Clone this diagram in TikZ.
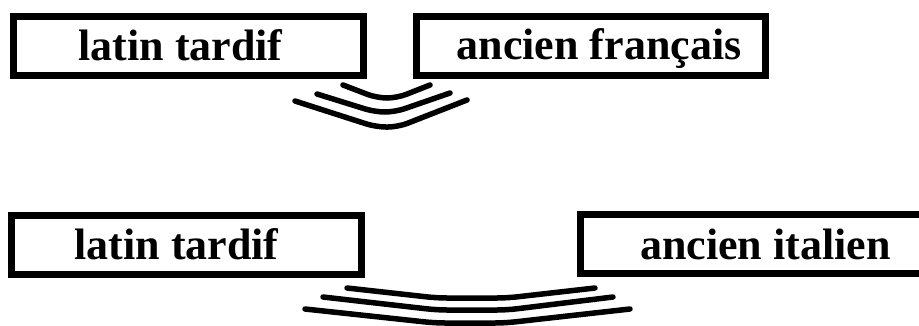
\documentclass[tikz,border=0pt]{standalone}
\usepackage{fontspec}
\setmainfont{Liberation Serif}
\begin{document}
\begin{tikzpicture}[x=1pt,y=-1pt,
  box/.style={draw=black,line width=6.5pt,minimum height=59.4pt,inner sep=0pt},
  lbl/.style={inner sep=0pt,anchor=base,font=\bfseries\fontsize{44}{50}\selectfont},
  wave/.style={draw=black,line width=5.5pt,line cap=round,rounded corners=10pt}]
\useasboundingbox (0,0) rectangle (919,325);
% boxes
\node[box,minimum width=350.4pt] (b1) at (188.5,46) {};
\node[box,minimum width=349.4pt] (b2) at (591,46) {};
\node[box,minimum width=350.4pt] (b3) at (186.5,245) {};
\node[box,minimum width=360pt] (b4) at (760.3,244) {};
% labels
\node[lbl] (t1) at (180.5,60) {latin tardif};
\node[lbl] (t2) at (599,59.5) {ancien français};
\node[lbl] (t3) at (176.5,259) {latin tardif};
\node[lbl] (t4) at (765.5,259) {ancien italien};
% top waves
\draw[wave] (343,85) -- (377,98) -- (397,98) -- (430,85);
\draw[wave] (317,94) -- (375,112) -- (395,112) -- (450,93);
\draw[wave] (295,101) -- (376,127) -- (398,127) -- (467,100);
% bottom waves
\draw[wave] (347,288) -- (437,298) -- (507,298) -- (595,288);
\draw[wave] (323,297) -- (437,310) -- (507,310) -- (613,297);
\draw[wave] (305,309) -- (435,323) -- (505,323) -- (630,309);
\end{tikzpicture}
\end{document}
